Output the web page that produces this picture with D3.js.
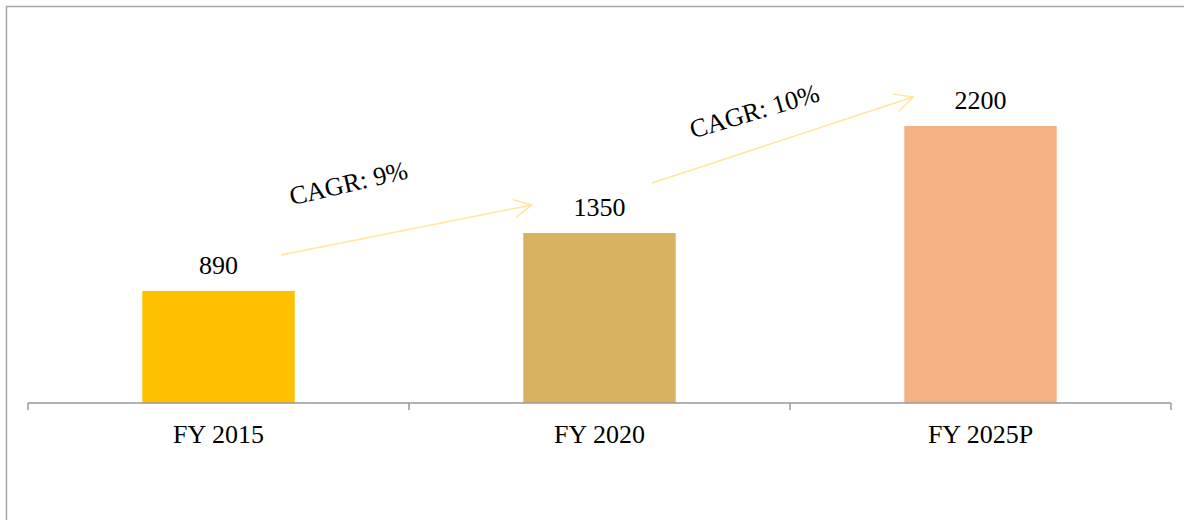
<!DOCTYPE html>
<html>
<head>
<meta charset="utf-8">
<script src="https://cdn.jsdelivr.net/npm/d3@7"></script>
<style>
  html, body { margin: 0; padding: 0; background: #fff; }
  svg { display: block; }
  text { font-family: "Liberation Serif", "Times New Roman", serif; fill: #000; }
</style>
</head>
<body>
<svg id="chart" width="1184" height="520"></svg>
<script>
// chart data
const categories = ['FY 2015', 'FY 2020', 'FY 2025P'];
const values = [890, 1350, 2200];
const barColors = ['#FFC000', '#D9B25F', '#F4B183'];

// CAGR arrows, in category position (0 = left edge of first band) and value units
const cagrLabels = ['CAGR: 9%', 'CAGR: 10%'];
const arrowFrom = [[0.664, 1175], [1.638, 1747]];
const arrowTo = [[1.323, 1573], [2.323, 2430]];

const svg = d3.select('#chart');

const left = 28, right = 1171, baseline = 403;

// outer frame (runs off the right and bottom edges, like the original)
svg.append('rect')
  .attr('x', 6.5).attr('y', 6.5)
  .attr('width', 1200).attr('height', 600)
  .attr('fill', 'none')
  .attr('stroke', '#a6a6a6')
  .attr('stroke-width', 1.5);

const x = d3.scaleBand()
  .domain(categories)
  .range([left, right])
  .paddingInner(0.6)
  .paddingOuter(0.3);

const y = d3.scaleLinear()
  .domain([0, 2200])
  .range([baseline, 126]);

// position along the category axis, measured in bands
const xPos = d3.scaleLinear()
  .domain([0, categories.length])
  .range([left, right]);

// bars
svg.selectAll('.bar')
  .data(values)
  .enter()
  .append('rect')
  .attr('class', 'bar')
  .attr('x', (d, i) => x(categories[i]))
  .attr('y', d => y(d))
  .attr('width', x.bandwidth())
  .attr('height', d => baseline - y(d))
  .attr('fill', (d, i) => barColors[i]);

// value labels
svg.selectAll('.value-label')
  .data(values)
  .enter()
  .append('text')
  .attr('class', 'value-label')
  .attr('x', (d, i) => x(categories[i]) + x.bandwidth() / 2)
  .attr('y', d => y(d) - 17)
  .attr('text-anchor', 'middle')
  .style('font-size', '26px')
  .text(d => d);

// category axis: line with ticks at band boundaries
const axisColor = '#9a9a9a';
svg.append('line')
  .attr('x1', left).attr('x2', right)
  .attr('y1', baseline).attr('y2', baseline)
  .attr('stroke', axisColor)
  .attr('stroke-width', 1.5);

svg.selectAll('.tick-mark')
  .data(d3.range(categories.length + 1))
  .enter()
  .append('line')
  .attr('class', 'tick-mark')
  .attr('x1', d => xPos(d)).attr('x2', d => xPos(d))
  .attr('y1', baseline).attr('y2', baseline + 7)
  .attr('stroke', axisColor)
  .attr('stroke-width', 1.5);

svg.selectAll('.cat-label')
  .data(categories)
  .enter()
  .append('text')
  .attr('class', 'cat-label')
  .attr('x', d => x(d) + x.bandwidth() / 2)
  .attr('y', 443)
  .attr('text-anchor', 'middle')
  .style('font-size', '26px')
  .text(d => d);

// CAGR arrows
const arrowColor = '#FFE699';
const defs = svg.append('defs');
defs.append('marker')
  .attr('id', 'arrowhead')
  .attr('viewBox', '0 0 20 20')
  .attr('refX', 19).attr('refY', 10)
  .attr('markerWidth', 20).attr('markerHeight', 20)
  .attr('markerUnits', 'userSpaceOnUse')
  .attr('orient', 'auto')
  .append('path')
  .attr('d', 'M1,1 L19,10 L1,19')
  .attr('fill', 'none')
  .attr('stroke', arrowColor)
  .attr('stroke-width', 1.5);

svg.selectAll('.cagr-arrow')
  .data(cagrLabels)
  .enter()
  .append('line')
  .attr('class', 'cagr-arrow')
  .attr('x1', (d, i) => xPos(arrowFrom[i][0]))
  .attr('y1', (d, i) => y(arrowFrom[i][1]))
  .attr('x2', (d, i) => xPos(arrowTo[i][0]))
  .attr('y2', (d, i) => y(arrowTo[i][1]))
  .attr('stroke', arrowColor)
  .attr('stroke-width', 1.5)
  .attr('marker-end', 'url(#arrowhead)');

// CAGR labels, rotated roughly along their arrows
const labelAnchor = [[0.692, 1570], [1.745, 2100]];
const labelAngle = [-13, -16.5];
svg.selectAll('.cagr-label')
  .data(cagrLabels)
  .enter()
  .append('text')
  .attr('class', 'cagr-label')
  .attr('transform', (d, i) =>
    `translate(${xPos(labelAnchor[i][0])},${y(labelAnchor[i][1])}) rotate(${labelAngle[i]})`)
  .style('font-size', '26px')
  .text(d => d);
</script>
</body>
</html>
